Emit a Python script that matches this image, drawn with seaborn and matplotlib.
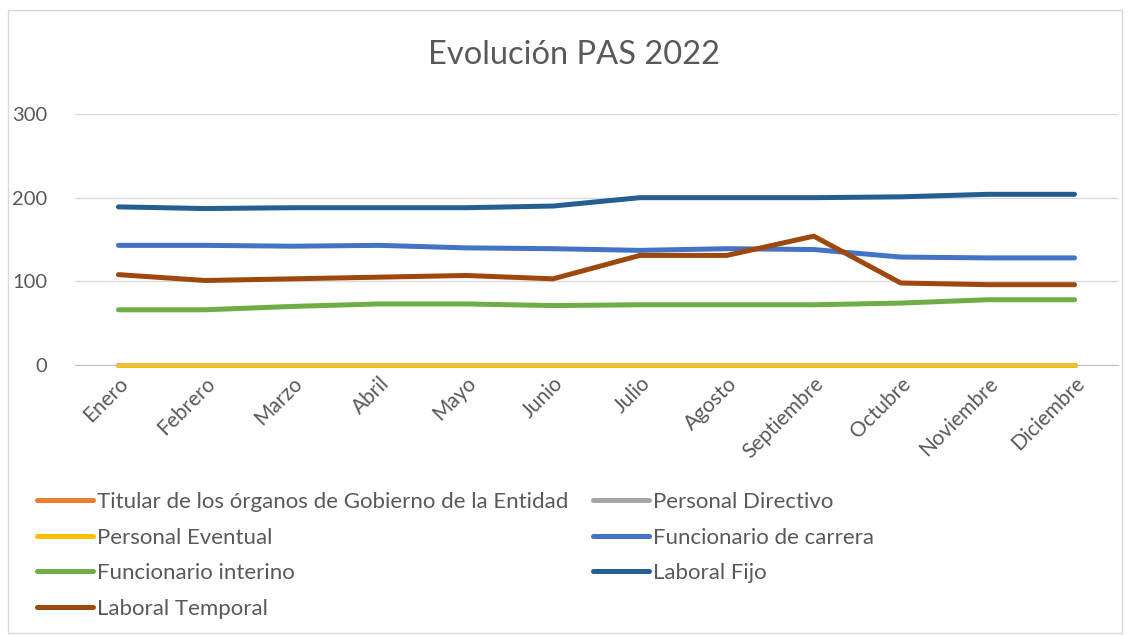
import matplotlib.pyplot as plt
import pandas as pd
import seaborn as sns
from matplotlib.patches import Rectangle

meses = ["Enero", "Febrero", "Marzo", "Abril", "Mayo", "Junio", "Julio",
         "Agosto", "Septiembre", "Octubre", "Noviembre", "Diciembre"]
titular = [0] * 12
directivo = [0] * 12
eventual = [0] * 12
func_carrera = [143, 143, 142, 143, 140, 139, 137, 139, 138, 129, 128, 128]
func_interino = [66, 66, 70, 73, 73, 71, 72, 72, 72, 74, 78, 78]
laboral_fijo = [189, 187, 188, 188, 188, 190, 200, 200, 200, 201, 204, 204]
laboral_temporal = [108, 101, 103, 105, 107, 103, 131, 131, 154, 98, 96, 96]

series = {
    "Titular de los órganos de Gobierno de la Entidad": titular,
    "Personal Directivo": directivo,
    "Personal Eventual": eventual,
    "Funcionario de carrera": func_carrera,
    "Funcionario interino": func_interino,
    "Laboral Fijo": laboral_fijo,
    "Laboral Temporal": laboral_temporal,
}
colores = ["#ED7D31", "#A5A5A5", "#FFC000", "#4472C4", "#70AD47", "#255E91", "#9E480E"]

df = pd.DataFrame([
    {"mes": m, "serie": nombre, "valor": v}
    for nombre, vals in series.items() for m, v in zip(meses, vals)
])

sns.set_style("white")
plt.rcParams["font.family"] = ["Lato", "DejaVu Sans"]
txt = "#595959"

fig = plt.figure(figsize=(11.31, 6.35), dpi=100)
ax = fig.add_axes([75 / 1131, 1 - 365 / 635, 1043 / 1131, 251 / 635])
sns.lineplot(data=df, x="mes", y="valor", hue="serie", palette=colores,
             sort=False, linewidth=3.6, ax=ax, legend=False)
for ln in ax.get_lines():
    ln.set_solid_capstyle("round")
    ln.set_clip_on(False)

ax.set_xlim(-0.5, 11.5)
ax.set_ylim(0, 300)
ax.set_yticks([0, 100, 200, 300])
ax.grid(axis="y", color="#D9D9D9", linewidth=1)
ax.set_axisbelow(True)
for s in ["top", "right", "left"]:
    ax.spines[s].set_visible(False)
ax.spines["bottom"].set_color("#BFBFBF")
ax.set_xlabel("")
ax.set_ylabel("")
ax.tick_params(axis="both", length=0, colors=txt, labelsize=15)
ax.tick_params(axis="y", pad=20, labelsize=14.5)
ax.tick_params(axis="x", pad=6)
plt.setp(ax.get_xticklabels(), rotation=45, ha="right", rotation_mode="anchor")

fig.text(574 / 1131, 1 - 55 / 635, "Evolución PAS 2022", ha="center", va="center",
         fontsize=23.5, color=txt)

# leyenda en dos columnas, orden por filas como en el original
nombres = list(series.keys())
lineas = ax.get_lines()
izq = [0, 2, 4, 6]
der = [1, 3, 5]
kw = dict(frameon=False, fontsize=16, labelcolor=txt, handlelength=2.5,
          handletextpad=0.18, labelspacing=0.70, borderaxespad=0, borderpad=0)
leg1 = fig.legend([lineas[i] for i in izq], [nombres[i] for i in izq],
                  loc="upper left", bbox_to_anchor=(37 / 1131, 1 - 492 / 635), **kw)
leg2 = fig.legend([lineas[i] for i in der], [nombres[i] for i in der],
                  loc="upper left", bbox_to_anchor=(593 / 1131, 1 - 492 / 635), **kw)

fig.patches.append(Rectangle((8 / 1131, 2 / 635), 1114 / 1131, 623 / 635,
                             transform=fig.transFigure, fill=False,
                             edgecolor="#D9D9D9", linewidth=1))

fig.savefig("out.png", dpi=100)
